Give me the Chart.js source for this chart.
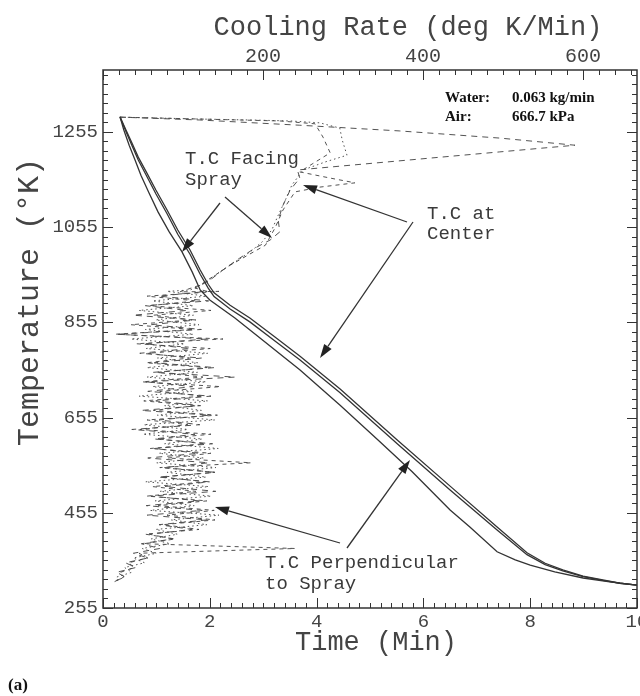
<!DOCTYPE html>
<html><head><meta charset="utf-8">
<script src="https://cdn.jsdelivr.net/npm/chart.js@4/dist/chart.umd.min.js"></script>
<style>html,body{margin:0;padding:0;background:#fff}</style>
</head><body>
<canvas id="c" width="640" height="696"></canvas>
<script>
// ---- Temperature vs time (bottom axis: Time, Min; left axis: Temperature, K)
const timeFacing = [0.32,0.39,0.49,0.60,0.71,0.86,1.03,1.24,1.48,1.67,1.82,2.00,2.47,2.94,3.69,4.44,5.15,5.79,6.50,6.87,7.38,7.72,8.00,8.46,8.99,9.49,10.0];
const tempFacing = [1286,1259,1227,1196,1164,1127,1087,1045,1003,961,923,902,864,822,755,681,608,541,461,425,373,356,345,331,318,310,303];
const timeCenter = [0.32,0.43,0.54,0.66,0.81,0.99,1.20,1.40,1.63,1.82,1.97,2.08,2.38,2.75,3.22,3.69,4.44,5.51,6.50,7.38,7.94,8.28,8.61,8.99,9.36,9.68,10.0];
const tempCenter = [1286,1259,1232,1202,1171,1133,1091,1049,1007,965,935,917,891,864,824,784,715,608,511,425,371,349,335,322,314,307,303];
const tempPerp   = [1286,1256,1227,1196,1164,1125,1083,1040,998,956,927,909,883,856,816,776,707,600,503,419,367,346,333,321,313,307,303];

// ---- Cooling rate vs temperature (top axis: Cooling Rate, deg K/Min)
const rateTopCenter = [21,121,246,371,496,590,496,396,296,243,246,234,225,219,221,209,190,171,153,134,115];
const tempTopCenter = [1286,1280,1269,1257,1242,1227,1213,1198,1183,1175,1158,1133,1101,1070,1045,1028,1011,990,969,944,927];
const rateTopFacing = [21,71,121,184,234,271,296,299,305,278,250,236,228,219,211,199,184,165,146,128,109];
const tempTopFacing = [1286,1284,1282,1280,1278,1274,1263,1238,1206,1192,1175,1143,1112,1080,1049,1024,1003,982,961,938,923];
const rateTopPerp = [21,121,221,265,275,284,259,246,284,315,271,240,225,215,203,181,159,140,121,96];
const tempTopPerp = [1286,1282,1278,1272,1244,1211,1185,1171,1158,1148,1139,1129,1091,1053,1017,996,975,954,933,919];

const clusterTemp = [920,910,900,890,880,870,860,850,840,830,820,810,800,790,780,770,760,750,740,730,720,710,700,690,680,670,660,650,640,630,620,610,600,590,580,570,560,550,540,530,520,510,500,490,480,470,460,450,440,430,420,410,400,390,380,370,360,350,340,330,320,310];
const clusterRateCenter = [130,70,132,53,105,38,116,60,123,18,130,52,109,46,123,64,140,63,165,54,112,56,135,66,122,48,133,70,121,36,115,64,137,64,120,56,132,76,140,69,133,77,141,60,120,54,124,55,130,70,111,58,87,48,71,38,56,28,41,17,28,12];
const clusterRateFacing = [80,130,62,113,45,113,66,120,53,113,35,102,54,131,68,119,55,118,55,129,62,111,45,131,77,123,68,140,51,106,50,124,77,144,70,126,67,141,80,129,53,132,71,135,65,114,59,145,85,130,66,93,60,84,49,67,38,52,27,36,17,19];
const clusterRatePerp = [145,55,117,58,135,63,111,35,113,15,150,42,134,56,108,54,130,68,125,49,147,71,125,51,117,63,143,55,106,46,135,69,127,59,135,81,185,71,140,74,128,62,116,55,130,69,139,80,140,75,120,53,90,51,240,45,56,32,39,22,26,14];

// ---- Axis ticks
const timeTicks = [0,2,4,6,8,10];
const tempTicks = [255,455,655,855,1055,1255];
const rateTicks = [200,400,600];

const pts = (xs, ys) => xs.map((v, i) => ({x: v, y: ys[i]}));
const ratePts = (rt, tt, rc) => pts(rt.concat(rc), tt.concat(clusterTemp));

const INK = '#333';
const solid = (xs, ys) => ({data: pts(xs, ys), xAxisID: 'x', borderColor: INK, borderWidth: 1.3, pointRadius: 0, showLine: true, fill: false});
const rate = (d, dash) => ({data: d, xAxisID: 'x2', borderColor: '#4a4a4a', borderWidth: 0.95, borderDash: dash, pointRadius: 0, showLine: true, fill: false});

const deco = {
  id: 'deco',
  afterDraw(chart) {
    const {ctx, chartArea: a, scales: {x, x2, y}} = chart;
    ctx.save();
    ctx.strokeStyle = INK; ctx.fillStyle = '#444';
    ctx.lineWidth = 1.5;
    ctx.strokeRect(a.left, a.top, a.right - a.left, a.bottom - a.top);
    ctx.lineWidth = 1;
    ctx.beginPath();
    for (let v = 255; v <= y.max; v += 20) {
      const p = Math.round(y.getPixelForValue(v)) + 0.5;
      const L = tempTicks.includes(v) ? 10 : 5;
      ctx.moveTo(a.left, p); ctx.lineTo(a.left + L, p);
      ctx.moveTo(a.right, p); ctx.lineTo(a.right - L, p);
    }
    for (let k = 0; k <= 50; k++) {
      const v = k * 0.2;
      const p = Math.round(x.getPixelForValue(v)) + 0.5;
      const L = (k % 10 === 0) ? 10 : 5;
      ctx.moveTo(p, a.bottom); ctx.lineTo(p, a.bottom - L);
    }
    for (let v = 0; v <= x2.max; v += 20) {
      const p = Math.round(x2.getPixelForValue(v)) + 0.5;
      const L = (v % 200 === 0) ? 10 : 5;
      ctx.moveTo(p, a.top); ctx.lineTo(p, a.top + L);
    }
    ctx.stroke();

    const mono = s => s + 'px "Liberation Mono", monospace';
    ctx.font = mono(19);
    ctx.textAlign = 'right'; ctx.textBaseline = 'middle';
    tempTicks.forEach(v => ctx.fillText(String(v), a.left - 5, y.getPixelForValue(v)));
    ctx.textAlign = 'center'; ctx.textBaseline = 'top';
    timeTicks.forEach(v => ctx.fillText(String(v), x.getPixelForValue(v), a.bottom + 4));
    ctx.textBaseline = 'bottom';
    ctx.font = mono(20);
    rateTicks.forEach(v => ctx.fillText(String(v), x2.getPixelForValue(v), a.top - 3));

    ctx.font = mono(27);
    ctx.textBaseline = 'middle';
    ctx.fillText('Cooling Rate (deg K/Min)', 408, 28);
    ctx.fillText('Time (Min)', 376, 643);
    ctx.save();
    ctx.translate(30, 302); ctx.rotate(-Math.PI / 2);
    ctx.font = mono(30);
    ctx.fillText('Temperature (\u00B0K)', 0, 0);
    ctx.restore();

    ctx.font = mono(19); ctx.textAlign = 'left'; ctx.fillStyle = '#3a3a3a';
    ctx.fillText('T.C Facing', 185, 159);
    ctx.fillText('Spray', 185, 180);
    ctx.fillText('T.C at', 427, 214);
    ctx.fillText('Center', 427, 234);
    ctx.fillText('T.C Perpendicular', 265, 563);
    ctx.fillText('to Spray', 265, 584);

    ctx.fillStyle = '#111';
    ctx.font = 'bold 15px "Liberation Serif", serif';
    ctx.fillText('Water:', 445, 98);
    ctx.fillText('0.063 kg/min', 512, 98);
    ctx.fillText('Air:', 445, 117);
    ctx.fillText('666.7 kPa', 512, 117);
    ctx.font = 'bold 17px "Liberation Serif", serif';
    ctx.fillText('(a)', 8, 686);

    const arrow = (x1, y1, x2_, y2_) => {
      const ang = Math.atan2(y2_ - y1, x2_ - x1), H = 14, W = 4.5;
      const bx = x2_ - H * Math.cos(ang), by = y2_ - H * Math.sin(ang);
      ctx.strokeStyle = INK; ctx.fillStyle = '#222'; ctx.lineWidth = 1.3;
      ctx.beginPath(); ctx.moveTo(x1, y1); ctx.lineTo(bx, by); ctx.stroke();
      ctx.beginPath();
      ctx.moveTo(x2_, y2_);
      ctx.lineTo(bx + W * Math.sin(ang), by - W * Math.cos(ang));
      ctx.lineTo(bx - W * Math.sin(ang), by + W * Math.cos(ang));
      ctx.closePath(); ctx.fill();
    };
    arrow(220, 203, 182, 252);
    arrow(225, 197, 272, 238);
    arrow(407, 222, 303, 185);
    arrow(413, 222, 320, 358);
    arrow(340, 543, 215, 507);
    arrow(347, 548, 410, 460);
    ctx.restore();
  }
};

new Chart(document.getElementById('c'), {
  type: 'scatter',
  data: {
    datasets: [
      solid(timeFacing, tempFacing),
      solid(timeCenter, tempCenter),
      solid(timeCenter, tempPerp),
      rate(ratePts(rateTopCenter, tempTopCenter, clusterRateCenter), [6, 5]),
      rate(ratePts(rateTopFacing, tempTopFacing, clusterRateFacing), [1.5, 3]),
      rate(ratePts(rateTopPerp, tempTopPerp, clusterRatePerp), [4, 4])
    ]
  },
  options: {
    responsive: false,
    animation: false,
    devicePixelRatio: 1,
    layout: {padding: {left: 103, right: 3, top: 70, bottom: 88}},
    plugins: {legend: {display: false}, tooltip: {enabled: false}},
    elements: {line: {tension: 0}},
    scales: {
      x: {type: 'linear', min: 0, max: 10, display: false},
      x2: {type: 'linear', min: 0, max: 667.5, display: false, position: 'top'},
      y: {type: 'linear', min: 255, max: 1385, display: false}
    }
  },
  plugins: [deco]
});
</script>
</body></html>
